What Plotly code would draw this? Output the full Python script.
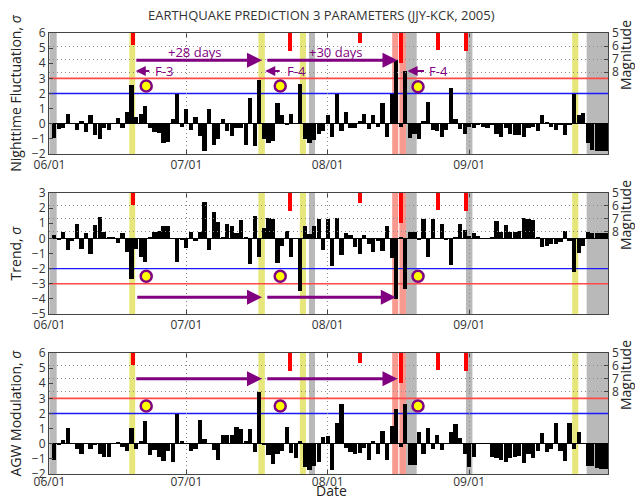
import plotly.graph_objects as go
from datetime import datetime, timedelta

# ---------------- data ----------------
START = datetime(2005, 6, 1)
dates = [(START + timedelta(days=i)).strftime("%Y-%m-%d") for i in range(1, 123)]

nighttime_fluct = [
    -0.95, -0.35, -0.3, 0.65, 0.0, -0.4, 0.2, -0.55, 0.55, -0.75, -1.0, -0.3, -0.4, 0.0, 0.4, -0.25, 0.75,
    2.55,
    0.45, 0.65, 1.2, -0.3, -0.55, -0.6, -1.3, -1.2, 0.3, 2.0, -0.2, 1.0, -0.4, 0.45, -0.8, -1.8, 0.95,
    -1.4, -1.0, 0.3, -0.5, -0.8, -0.3, -0.3, -1.4, 1.7, -1.45,
    2.9,
    -1.0, -1.3, -1.15, 1.35, 0.55, -0.1, 0.65, 0.05, 2.65,
    -1.0, -1.3, -1.05, -0.7, -0.5, 0.55, -0.9, 2.0,
    -0.45, 0.8, -0.3, -0.3, 0.2, 0.65, -0.35, 0.55, -0.2, 1.4, -0.9, 2.0,
    4.2, -0.2, 3.5,
    -0.95, -0.7, -1.0, 0.15, 1.45, -0.4, -0.5, -0.9, -0.4, 2.35,
    0.3, -0.35, -0.7, -0.2, -0.3, -0.1, -0.2, -0.25, -0.1, -0.7, -0.85, -0.3, -0.7, -0.75, -0.75,
    -0.85, -0.3, -0.2, -0.45, 0.55, 0.1, -0.2, -0.4, -0.05, -0.75, -0.1, 2.0,
    0.55, 0.7, -1.3, -1.75, -1.8, -1.8, -1.8,
]

trend = [
    0.25, -0.05, 0.45, -0.75, -0.15, 0.95, -0.7, 0.35, -1.0, 0.9, 1.4, 0.4, 0.05, 0.05, -0.3, 0.35, -0.9,
    -2.7,
    -0.7, -1.2, -1.55, 0.05, 0.45, 0.5, 0.85, 0.85, 0.0, -1.55, -0.05, -0.65, 0.45, -0.2, 0.45, 2.4,
    -0.8, 1.75, 1.1, 0.05, 0.95, 0.8, 0.35, 1.2, 0.05, -1.7, 1.5,
    -1.25,
    0.7, 1.35, 1.25, -1.6, -0.5, 0.5, -1.2, 0.0, -3.5,
    0.85, 0.3, 0.8, 1.25, -0.8, 1.3, -1.85, 1.35,
    -1.1, 0.35, 0.2, -0.55, -1.0, 0.2, -0.35, -0.9, -0.2, -0.85, 0.8, -1.3,
    -4.0, 0.1, -3.35,
    0.45, 0.45, -0.1, 1.3, -1.25, 1.25, 0.0, 0.95, -0.1, -1.75,
    0.1, 0.95, 0.55, 0.15, 0.35, 0.15, 0.0, 0.0, 0.05, 1.15, 0.45, 0.9, 0.45, 0.45, 0.5,
    1.35, 1.25, 1.2, 0.05, -0.55, -0.5, -0.4, -0.35, -0.25, 0.5, -0.2, -2.25,
    -0.95, -0.5, 0.4, 0.35, 0.35, 0.35, 0.35,
]

agw_modulation = [
    -1.05, -0.1, 0.25, 1.05, 0.0, -0.35, -0.65, 0.05, -0.35, -0.1, -0.7, -0.9, -0.85, 0.0, 0.1, -0.2, -0.5,
    1.05,
    -0.35, 0.2, 1.5, -0.75, -0.4, -0.9, -1.15, -0.5, -1.2, 1.95, 0.15, 0.0, -0.45, -0.35, 1.55, 0.3,
    0.0, -0.4, -1.1, 0.55, 0.55, 0.6, 1.1, 1.0, 0.15, 0.95, -0.55,
    3.4,
    -0.1, -0.75, -1.35, -0.65, -0.5, 1.1, -0.6, -0.95, 0.2,
    -1.55, -1.75, -1.5, -1.2, 0.45, 0.5, -1.75, 1.35, 2.6,
    -0.25, -0.55, -0.7, -0.6, -0.25, -1.1, 0.15, -0.7, 0.85, -1.1, 1.15,
    2.3, -0.2, 2.6,
    -1.4, -1.4, 0.75, -0.7, 1.05, -0.35, 0.55, -0.4, 0.0, 0.75,
    1.3, 0.35, -0.7, -1.55, -0.85, 0.0, 0.0, 0.0, -0.9, -0.95, -1.1, -1.2, -0.95, -0.85, -0.8,
    -1.3, -0.7, -0.95, -0.45, 0.7, -0.55, -0.35, 1.35, -0.5, -1.15, 1.4, -0.35,
    0.8, 0.0, -1.45, -1.45, -1.6, -1.65, -1.65,
]

# earthquakes (date, magnitude)
eq_dates = ["2005-06-19 07:00", "2005-07-23 19:00", "2005-08-08 00:00",
            "2005-08-17 01:00", "2005-08-25 05:00", "2005-08-31 07:00"]
eq_mags = [5.9, 6.35, 5.75, 7.3, 6.3, 6.35]

# shaded day bands
gray_bands = [("2005-06-01 00:00", "2005-06-02 14:00"), ("2005-07-27 21:00", "2005-07-29 05:00"),
              ("2005-08-18 04:00", "2005-08-20 12:00"), ("2005-08-31 07:00", "2005-09-01 17:00"),
              ("2005-09-26 18:00", "2005-10-03 00:00")]
yellow_bands = [("2005-06-18 12:00", "2005-06-19 19:00"), ("2005-07-16 19:00", "2005-07-18 05:00"),
                ("2005-07-25 21:00", "2005-07-27 05:00"), ("2005-09-23 14:00", "2005-09-24 22:00")]
pink_bands = [("2005-08-15 03:00", "2005-08-16 11:00"), ("2005-08-16 17:00", "2005-08-18 04:00")]

# markers
circle_dates = ["2005-06-22 05:00", "2005-07-21 14:00", "2005-08-20 19:00"]
circle_vals = [[2.5, 2.5, 2.45], [-2.5, -2.5, -2.5], [2.5, 2.5, 2.5]]

# main arrows (tail, head) and level per panel
arrow_spans = [[("2005-06-19 17:00", "2005-07-17 14:00"), ("2005-07-18 10:00", "2005-08-16 07:00")],
               [("2005-06-19 22:00", "2005-07-17 14:00"), ("2005-07-18 10:00", "2005-08-15 22:00")],
               [("2005-06-19 17:00", "2005-07-17 14:00"), ("2005-07-18 10:00", "2005-08-16 07:00")]]
arrow_levels = [4.2, -3.9, 4.3]
span_labels = ["+28 days", "+30 days"]
span_label_x = ["2005-07-03 00:00", "2005-08-02 19:00"]
span_label_y = 4.74

f_labels = ["F-3", "F-4", "F-4"]
f_tails = ["2005-06-23 05:00", "2005-07-21 19:00", "2005-08-22 10:00"]
f_heads = ["2005-06-19 22:00", "2005-07-18 07:00", "2005-08-18 12:00"]
f_text_x = ["2005-06-23 17:00", "2005-07-22 14:00", "2005-08-22 16:00"]
f_level = 3.48

y_titles = ["Nighttime Fluctuation, <i>σ</i>", "Trend, <i>σ</i>", "AGW Modulation, <i>σ</i>"]
y_ranges = [[-2, 6], [-5, 3], [-2, 6]]
red_levels = [3, -3, 3]
blue_levels = [2, -2, 2]
month_ticks = ["2005-06-01", "2005-07-01", "2005-08-01", "2005-09-01"]
month_labels = ["06/01", "07/01", "08/01", "09/01"]
mag_ticks = [5, 6, 7, 8]

series = [nighttime_fluct, trend, agw_modulation]

# ---------------- figure ----------------
FONT = "Open Sans"
PURPLE = "#800080"
X_RANGE = ["2005-05-31 21:30", "2005-10-01 10:20"]
DAY_MS = 86400000
domains = [[0.7256, 1.0], [0.3628, 0.6372], [0.0, 0.2744]]
MAG_H = 0.0998
DOTS = "1px,3px"

fig = go.Figure()
layout = dict(
    width=635, height=502,
    margin=dict(l=49, r=27, t=33, b=28),
    paper_bgcolor="white", plot_bgcolor="rgba(0,0,0,0)",
    showlegend=False,
    font=dict(family=FONT, size=12, color="#333"),
    title=dict(text="EARTHQUAKE PREDICTION 3 PARAMETERS (JJY-KCK, 2005)",
               x=0.487, xref="paper", xanchor="center",
               y=1 - 15 / 502, yref="container", yanchor="middle",
               font=dict(size=13, color="#333", family=FONT)),
    bargap=0,
)
shapes = []
annotations = []

for i in range(3):
    n = i + 1
    xa = "x" if n == 1 else f"x{n}"
    ya = "y" if n == 1 else f"y{n}"
    ma = f"y{n + 3}"
    dom = domains[i]

    # data bars
    fig.add_trace(go.Bar(x=dates, y=series[i], xaxis=xa, yaxis=ya,
                         marker=dict(color="black", line=dict(width=0)),
                         width=0.92 * DAY_MS, hoverinfo="x+y"))
    # earthquake bars
    fig.add_trace(go.Bar(x=eq_dates, y=[m - 5 for m in eq_mags], base=[5] * len(eq_mags),
                         xaxis=xa, yaxis=ma, marker=dict(color="#ff0000", line=dict(width=0)),
                         width=0.85 * DAY_MS))
    # circles
    fig.add_trace(go.Scatter(x=circle_dates, y=circle_vals[i], xaxis=xa, yaxis=ya, mode="markers",
                             marker=dict(size=11, color="#ffff00",
                                         line=dict(color=PURPLE, width=2.5))))

    layout["xaxis" if n == 1 else f"xaxis{n}"] = dict(
        domain=[0, 1], anchor=ya, type="date", range=X_RANGE,
        tickvals=month_ticks, ticktext=month_labels,
        ticks="inside", ticklen=4, tickcolor="#444",
        showline=True, linecolor="#444", linewidth=1, mirror="ticks",
        showgrid=True, gridcolor="#8a8a8a", griddash=DOTS, gridwidth=1,
        zeroline=False, tickfont=dict(size=12, color="#333"),
        ticklabelstandoff=-3 if n == 3 else 0,
        automargin=False,
    )
    layout["yaxis" if n == 1 else f"yaxis{n}"] = dict(
        domain=dom, anchor=xa, range=y_ranges[i], dtick=1,
        ticks="inside", ticklen=4, tickcolor="#444",
        showline=True, linecolor="#444", linewidth=1, mirror=True,
        showgrid=False, zeroline=True, zerolinecolor="black", zerolinewidth=1,
        tickfont=dict(size=12, color="#333"),
        title=dict(text=y_titles[i], font=dict(size=14, color="#222"), standoff=6),
        automargin=False,
    )
    layout[f"yaxis{n + 3}"] = dict(
        domain=[dom[1] - MAG_H, dom[1]], anchor=xa, side="right",
        range=[5 + MAG_H * 441 / 13.0, 5], tickvals=mag_ticks,
        ticks="inside", ticklen=4, tickcolor="#444",
        showline=False, showgrid=True, gridcolor="#8a8a8a", griddash=DOTS, gridwidth=1,
        zeroline=False, tickfont=dict(size=12, color="#333"),
        ticklabelstandoff=3,
        title=dict(text="Magnitude", font=dict(size=14, color="#222"), standoff=1),
        automargin=False,
    )

    # bands
    for bands, col in ((gray_bands, "#b9b9b9"), (yellow_bands, "#e6e67a"), (pink_bands, "#f99a90")):
        for (a, b) in bands:
            shapes.append(dict(type="rect", xref=xa, yref=f"{ya} domain", x0=a, x1=b, y0=0, y1=1,
                               fillcolor=col, line=dict(width=0), layer="below"))
    # threshold lines
    shapes.append(dict(type="line", xref=f"{xa} domain", yref=ya, x0=0, x1=1,
                       y0=red_levels[i], y1=red_levels[i],
                       line=dict(color="#ff4a4a", width=1.6), layer="below"))
    shapes.append(dict(type="line", xref=f"{xa} domain", yref=ya, x0=0, x1=1,
                       y0=blue_levels[i], y1=blue_levels[i],
                       line=dict(color="#1a1aff", width=1.4), layer="below"))
    # main arrows
    for (tail, head) in arrow_spans[i]:
        annotations.append(dict(x=head, y=arrow_levels[i], ax=tail, ay=arrow_levels[i],
                                xref=xa, yref=ya, axref=xa, ayref=ya, text="",
                                showarrow=True, arrowhead=2, arrowsize=1, arrowwidth=3,
                                arrowcolor=PURPLE, standoff=0, startstandoff=0))
    if n == 1:
        for lab, lx in zip(span_labels, span_label_x):
            annotations.append(dict(x=lx, y=span_label_y, xref=xa, yref=ya, text=lab,
                                    showarrow=False, font=dict(size=13, color=PURPLE, family=FONT)))
        for lab, t, h, tx in zip(f_labels, f_tails, f_heads, f_text_x):
            annotations.append(dict(x=h, y=f_level, ax=t, ay=f_level, xref=xa, yref=ya,
                                    axref=xa, ayref=ya, text="", showarrow=True, arrowhead=2,
                                    arrowsize=1, arrowwidth=2, arrowcolor=PURPLE,
                                    standoff=0, startstandoff=0))
            annotations.append(dict(x=tx, y=f_level, xref=xa, yref=ya, text=lab, xanchor="left",
                                    showarrow=False, font=dict(size=13, color=PURPLE, family=FONT)))

# x-axis title for the bottom panel
annotations.append(dict(text="Date", xref="paper", yref="paper", x=0.505, y=-(501 - 474) / 441,
                        xanchor="center", yanchor="bottom", showarrow=False, borderpad=0,
                        font=dict(size=14, color="#222", family=FONT)))

layout["shapes"] = shapes
layout["annotations"] = annotations
fig.update_layout(**layout)
fig.write_html("out.html", post_script="document.body.style.margin='0';",
               config={"displayModeBar": False})
